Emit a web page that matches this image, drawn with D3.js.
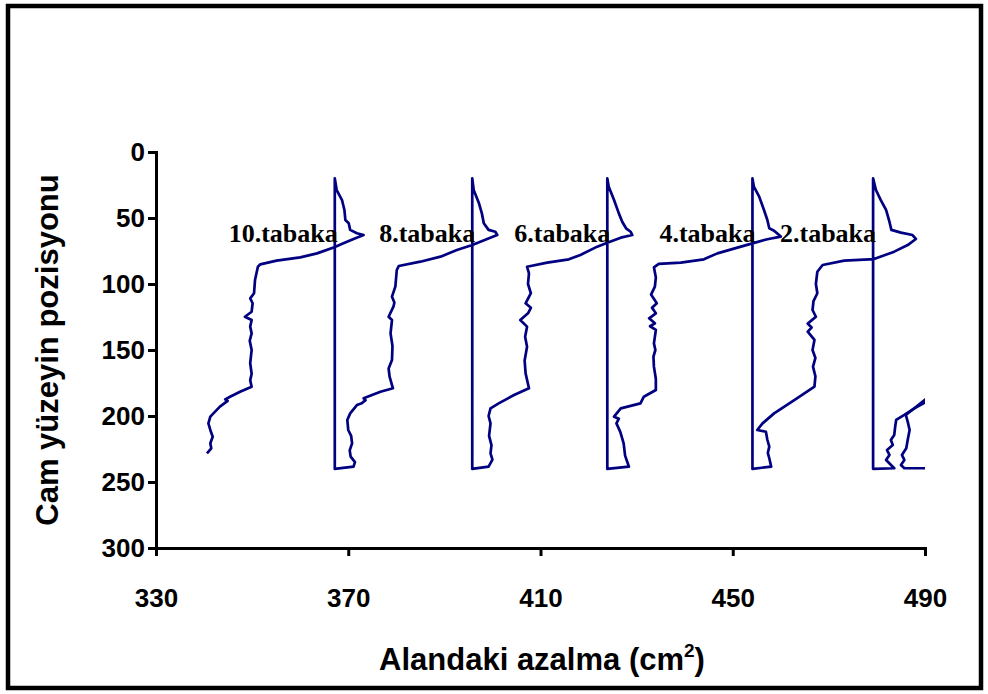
<!DOCTYPE html>
<html>
<head>
<meta charset="utf-8">
<script src="https://cdn.jsdelivr.net/npm/d3@7"></script>
<style>
  body { margin: 0; background: #fff; }
  svg text { font-family: "Liberation Sans", Arial, sans-serif; font-weight: bold; fill: #000; }
  .lbl { font-family: "Liberation Serif", "Times New Roman", serif; }
</style>
</head>
<body>
<div id="chart"></div>
<script>
// profile of each layer: [area decrease, glass surface position]
// each starts at the bottom of its reference line, runs up it, round the peak and down the profile
const layer2 = [[479.2,240],[479.2,20],[479.8,28.8],[480.8,36.4],[481.9,43.9],[482.6,52.8],[483,59],[485,61.1],[487.4,62.9],[488.1,65.9],[486.4,70.5],[483.6,75.5],[479.4,81.1],[473.2,82.3],[468.7,85.6],[467.6,90.7],[467.3,100],[467.6,107],[466.8,113],[466.6,119.7],[467.3,124.8],[465.6,130],[466.4,133],[465.6,136.1],[467,142.4],[466.6,150],[467.2,156],[466.7,162.6],[467.2,170],[467,177.8],[462.8,187.9],[458.6,198],[456.2,205.6],[455.1,210.6],[456.9,211.9],[457.2,218],[457.6,223.2],[457.3,228],[457.6,232],[458,238.4]];
const layer4 = [[454.1,240],[454.1,20],[454.4,26.3],[455.5,33.8],[456.5,43.9],[457.2,51.5],[457.6,57.8],[458.6,59.6],[460,64.1],[457.2,66.1],[454.1,69.2],[451.7,71.7],[446.8,76.8],[444,81.3],[439.2,83.8],[434.6,84.8],[433.6,87.4],[434,95],[433.8,102],[433,108],[434.2,114.6],[433.2,118],[434,122.2],[432.6,126],[433.8,129.8],[432.8,132],[434,134.8],[433.6,145],[433.9,150],[433.5,155],[433.6,162.6],[434,172],[434,180.3],[431.5,185.4],[430.8,190.4],[426.7,194.2],[425.3,200.5],[426.3,202],[425.8,205.6],[426.6,212],[427.3,220.7],[427.6,230],[428.4,238.4]];
const layer6 = [[423.9,240],[423.9,20],[424.2,26.3],[425.3,36.4],[426.3,46.5],[427,52.8],[427.8,57.8],[428.75,60.4],[429.1,62.9],[426.7,64.9],[423.9,68.7],[421.8,71.7],[418.3,78],[415.9,81.3],[411.4,83.8],[407.2,86.9],[407.6,91.9],[407.4,100],[408,107],[406.9,114.6],[408,118],[407.4,122.2],[405.8,127.3],[407.2,132.3],[406.8,140],[407.2,147.5],[406.7,158],[406.9,167.7],[407.6,179],[404.5,184.1],[401.3,190.4],[399.6,194.2],[399.2,200],[399.6,205.6],[399.3,215],[399.8,222],[399.6,228.3],[400,233],[399.2,238.4]];
const layer8 = [[395.8,240],[395.8,20],[396.1,28.8],[397.2,38.9],[397.8,46.5],[398.2,54],[399.2,59],[400.6,60.4],[401,62.9],[398.9,65.9],[395.8,70.5],[392.6,74.2],[389.2,79.3],[385,83.1],[380.5,86.4],[380.1,89.4],[379.8,102],[379.1,109.6],[379.6,114],[379.4,117.2],[378.4,124.8],[379.1,127.3],[378.8,137.4],[379.2,147],[379.1,157.6],[378.4,164],[378.6,170.2],[379.3,179],[376.7,181.6],[373.2,186.6],[373.6,188],[372.8,190.4],[371.8,191.7],[370.4,198],[369.8,203],[370,210.6],[370.6,215],[370.8,220.7],[370.3,226],[370.5,230.8],[371.4,235],[371.1,238.4]];
const layer10 = [[367.2,240],[367.2,20],[367.6,28.8],[368.7,36.4],[369.2,43.9],[369.4,51.5],[370.1,54],[370.4,59],[371.8,61.6],[373.2,62.9],[371.1,65.9],[369,69.2],[367.1,72.2],[363.5,76.8],[360,79.8],[355.1,82.3],[351.7,85.1],[351.2,86.9],[350.6,97],[350.4,107],[349.6,110.9],[350.1,114.6],[349.9,121],[348.5,124.8],[349.9,127.3],[349.6,132.3],[349.9,137.4],[349.5,143],[349.9,150],[349.6,160],[349.9,168],[349.6,173],[349.9,177.8],[347.5,181.6],[345.4,185.4],[344.4,187.4],[344.9,188.5],[343.3,192.9],[341.3,200.5],[340.9,205.6],[341.3,210.6],[341.8,215.7],[341.3,220.7],[341.5,224.5],[340.6,228.3]];
// pieces of the next profiles, cut off at the right edge
const layer0 = [[492.5,186.5],[490.6,188.5],[487.8,194.2],[485.7,199.2],[484,203],[483.8,208],[483.6,214.4],[482.9,218.2],[483.3,222],[482.1,225.8],[482.6,229.5],[481.9,233.3],[483.6,239.6]];
const layerM2 = [[492.5,183.5],[490.6,186],[486,199.2],[486.4,204.3],[486.8,210.6],[486.4,218.2],[486.1,224.5],[485.2,229.5],[485.7,233.3],[485,237.1],[485.7,239.6],[493,239.6]];

// the profiles form one long trace, right to left
const trace = [layer0, layer2, layer4, layer6, layer8, layer10];
const layerNames = ["10.tabaka","8.tabaka","6.tabaka","4.tabaka","2.tabaka"];
const namedLayers = [layer10, layer8, layer6, layer4, layer2];

const xTicks = [330,370,410,450,490];
const yTicks = [0,50,100,150,200,250,300];

const W = 988, H = 694;
const svg = d3.select("#chart").append("svg").attr("width", W).attr("height", H);

// frame round the whole chart
svg.append("rect").attr("x", 8).attr("y", 6).attr("width", 973).attr("height", 682)
  .attr("fill", "none").attr("stroke", "#000").attr("stroke-width", 4.5);

const x = d3.scaleLinear().domain([330, 490]).range([156, 925]);
const y = d3.scaleLinear().domain([0, 300]).range([152, 548]);

svg.append("clipPath").attr("id", "plot").append("rect")
  .attr("x", 156).attr("y", 140).attr("width", 925 - 156).attr("height", 420);

const line = d3.line().x(d => x(d[0])).y(d => y(d[1]));
const g = svg.append("g").attr("clip-path", "url(#plot)");

[trace.flat(), layerM2].forEach(pts => {
  g.append("path").datum(pts)
    .attr("d", line).attr("fill", "none")
    .attr("stroke", "#000080").attr("stroke-width", 2.7).attr("stroke-linejoin", "round");
});

// layer names sit just left of each reference line
svg.selectAll("text.lbl").data(layerNames).join("text")
  .attr("class", "lbl")
  .attr("x", (d, i) => x(namedLayers[i][0][0]) + 3)
  .attr("y", y(68))
  .attr("text-anchor", "end")
  .attr("font-size", 26)
  .text(d => d);

// axes
const yAxis = svg.append("g").attr("transform", "translate(156,0)")
  .call(d3.axisLeft(y).tickValues(yTicks).tickSize(8).tickPadding(3));
const xAxis = svg.append("g").attr("transform", "translate(0,548)")
  .call(d3.axisBottom(x).tickValues(xTicks).tickSize(8).tickPadding(33));

[yAxis, xAxis].forEach(a => {
  a.selectAll("path, line").attr("stroke", "#000").attr("stroke-width", 3);
  a.selectAll("text").attr("font-size", 26).attr("font-family", "Liberation Sans, Arial, sans-serif")
    .attr("font-weight", "bold").attr("fill", "#000");
});

// axis titles
svg.append("text")
  .attr("transform", "translate(58,350) rotate(-90)")
  .attr("text-anchor", "middle").attr("font-size", 31)
  .text("Cam yüzeyin pozisyonu");

const xt = svg.append("text").attr("x", 542).attr("y", 670)
  .attr("text-anchor", "middle").attr("font-size", 31);
xt.append("tspan").text("Alandaki azalma (cm");
xt.append("tspan").attr("font-size", 19).attr("dy", -13).text("2");
xt.append("tspan").attr("dy", 13).text(")");
</script>
</body>
</html>
